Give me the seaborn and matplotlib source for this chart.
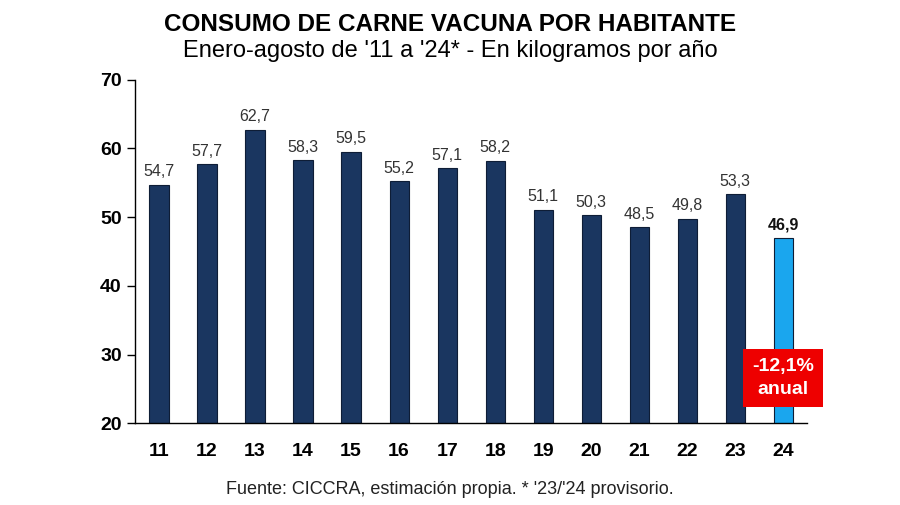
import numpy as np
import pandas as pd
import seaborn as sns
import matplotlib.pyplot as plt

years = ['11', '12', '13', '14', '15', '16', '17', '18', '19', '20', '21', '22', '23', '24']
consumo = [54.7, 57.7, 62.7, 58.3, 59.5, 55.2, 57.1, 58.2, 51.1, 50.3, 48.5, 49.8, 53.3, 46.9]

df = pd.DataFrame({'anio': years, 'kg': consumo})

sns.set_theme(style='white')
plt.rcParams['font.family'] = ['Liberation Sans', 'DejaVu Sans']
plt.rcParams['text.color'] = 'black'
plt.rcParams['xtick.color'] = 'black'
plt.rcParams['ytick.color'] = 'black'

fig = plt.figure(figsize=(9, 5.05), dpi=100)
ax = fig.add_axes([0.15, 0.162, 0.747, 0.68])

colors = ['#1a3660'] * (len(years) - 1) + ['#1aa6ee']
sns.barplot(data=df, x='anio', y='kg', hue='anio', palette=colors, legend=False,
            saturation=1, width=0.4, edgecolor='#0e1d36', linewidth=0.8, ax=ax)

ax.set_ylim(20, 70)
ax.set_xlim(-0.5, len(years) - 0.5)
ax.set_yticks([20, 30, 40, 50, 60, 70])
ax.set_xlabel('')
ax.set_ylabel('')

# ticks between categories
ax.set_xticks(np.arange(len(years)))
ax.set_xticks(np.arange(-0.5, len(years)), minor=True)
ax.tick_params(axis='x', which='major', length=0, pad=14, labelsize=14)
ax.tick_params(axis='x', which='minor', length=6, width=1, color='black', direction='out')
ax.tick_params(axis='y', length=6, width=1, color='black', direction='out', labelsize=14, left=True)
for lab in ax.get_xticklabels() + ax.get_yticklabels():
    lab.set_fontweight('bold')

for s in ['top', 'right']:
    ax.spines[s].set_visible(False)
for s in ['left', 'bottom']:
    ax.spines[s].set_color('black')
    ax.spines[s].set_linewidth(1)

for i, v in enumerate(consumo):
    last = i == len(consumo) - 1
    ax.text(i, v + 0.8, f'{v:.1f}'.replace('.', ','), ha='center', va='bottom',
            fontsize=11.5, color='#111111' if last else '#333333',
            fontweight='bold' if last else 'normal')

fig.text(0.5, 0.952, 'CONSUMO DE CARNE VACUNA POR HABITANTE', ha='center', va='center',
         fontsize=17.5, fontweight='bold')
fig.text(0.5, 0.9, "Enero-agosto de '11 a '24* - En kilogramos por año", ha='center', va='center',
         fontsize=17)
fig.text(0.5, 0.03, "Fuente: CICCRA, estimación propia. * '23/'24 provisorio.", ha='center',
         va='center', fontsize=13, color='#222222')

fig.text(0.87, 0.251, '-12,1%\nanual', ha='center', va='center', fontsize=14, fontweight='bold',
         color='white', linespacing=1.5,
         bbox=dict(boxstyle='square,pad=0.45', facecolor='#ee0000', edgecolor='none'))

fig.savefig('out.png', dpi=100)
